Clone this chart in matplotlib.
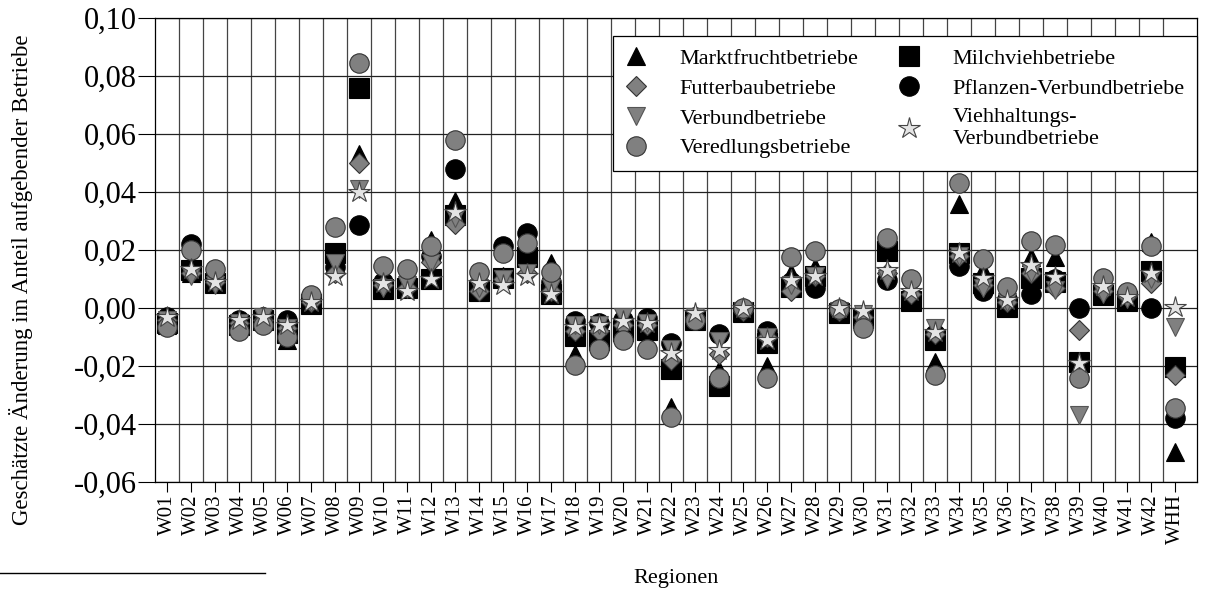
import matplotlib
matplotlib.use("Agg")
import matplotlib.pyplot as plt
from matplotlib.lines import Line2D
from matplotlib.ticker import FuncFormatter, MultipleLocator
import numpy as np

regions = ["W%02d" % i for i in range(1, 43)] + ["WHH"]

marktfrucht = [-0.006, 0.012, 0.009, -0.004, -0.004, -0.011, 0.002, 0.015, 0.053, 0.008,
               0.008, 0.0235, 0.037, 0.008, 0.011, 0.018, 0.0155, -0.016, -0.010, -0.008,
               -0.008, -0.034, -0.003, -0.0215, -0.001, -0.020, 0.012, 0.014, -0.001, -0.004,
               0.020, 0.004, -0.0185, 0.036, 0.013, 0.002, 0.0175, 0.0175, -0.019, 0.006,
               0.004, 0.0227, -0.0497]
futterbau = [-0.004, 0.012, 0.009, -0.005, -0.004, -0.007, 0.002, 0.012, 0.050, 0.008,
             0.007, 0.016, 0.029, 0.006, 0.010, 0.012, 0.006, -0.008, -0.008, -0.006,
             -0.006, -0.018, -0.003, -0.016, -0.001, -0.010, 0.006, 0.011, -0.001, -0.003,
             0.012, 0.005, -0.009, 0.018, 0.008, 0.002, 0.012, 0.007, -0.0076, 0.006,
             0.004, 0.0087, -0.023]
verbund = [-0.004, 0.011, 0.008, -0.005, -0.003, -0.007, 0.002, 0.0155, 0.041, 0.007,
           0.008, 0.0155, 0.031, 0.007, 0.010, 0.012, 0.007, -0.006, -0.006, -0.003,
           -0.005, -0.014, -0.003, -0.0115, -0.001, -0.010, 0.008, 0.011, -0.001, -0.002,
           0.010, 0.008, -0.007, 0.018, 0.007, 0.002, 0.012, 0.0062, -0.037, 0.005,
           0.003, 0.010, -0.0065]
veredlung = [-0.0065, 0.020, 0.0135, -0.008, -0.006, -0.010, 0.0045, 0.028, 0.0845, 0.0145,
             0.0135, 0.0215, 0.058, 0.0125, 0.019, 0.0225, 0.0125, -0.0195, -0.014, -0.011,
             -0.014, -0.0375, -0.004, -0.024, 0.000, -0.024, 0.0176, 0.0197, -0.0005, -0.007,
             0.024, 0.010, -0.023, 0.043, 0.0168, 0.0073, 0.023, 0.0217, -0.024, 0.0103,
             0.0056, 0.0213, -0.0345]
milchvieh = [-0.005, 0.013, 0.0087, -0.006, -0.004, -0.0085, 0.0015, 0.019, 0.076, 0.0065,
             0.007, 0.010, 0.032, 0.006, 0.0105, 0.0175, 0.005, -0.0095, -0.011, -0.008,
             -0.0075, -0.021, -0.004, -0.027, -0.0015, -0.012, 0.0074, 0.011, -0.0017, -0.0035,
             0.0195, 0.0025, -0.011, 0.019, 0.0087, 0.0005, 0.0103, 0.009, -0.0186, 0.0045,
             0.0025, 0.0128, -0.0204]
pflanzen = [-0.003, 0.022, 0.011, -0.004, -0.003, -0.004, 0.003, 0.014, 0.0285, 0.009,
            0.009, 0.018, 0.048, 0.008, 0.0215, 0.026, 0.009, -0.0045, -0.005, -0.004,
            -0.0035, -0.012, -0.003, -0.009, -0.001, -0.008, 0.009, 0.007, -0.001, -0.004,
            0.0097, 0.004, -0.009, 0.0145, 0.006, 0.003, 0.005, 0.010, 0.000, 0.007,
            0.004, 0.000, -0.038]
viehhaltung = [-0.003, 0.0135, 0.009, -0.004, -0.003, -0.006, 0.002, 0.011, 0.040, 0.0085,
               0.006, 0.010, 0.033, 0.0085, 0.008, 0.011, 0.005, -0.0065, -0.006, -0.0045,
               -0.005, -0.0155, -0.0017, -0.0145, 0.000, -0.011, 0.0097, 0.011, 0.000, -0.001,
               0.013, 0.006, -0.0083, 0.019, 0.0103, 0.0028, 0.0148, 0.0108, -0.019, 0.0076,
               0.0037, 0.012, 0.0004]

plt.rcParams['font.family'] = ['Liberation Serif', 'DejaVu Serif']

fig = plt.figure(figsize=(12.08, 5.89), dpi=100)
ax = fig.add_axes([155 / 1208, 1 - 482 / 589, (1197 - 155) / 1208, (482 - 18) / 589])

x = np.arange(len(regions))
grey = '#808080'

series = [
    # label, data, marker, face, edge, size, zorder
    ("Marktfruchtbetriebe", marktfrucht, '^', 'black', 'black', 13, 3),
    ("Futterbaubetriebe", futterbau, 'D', grey, '#333333', 10, 6),
    ("Verbundbetriebe", verbund, 'v', grey, '#555555', 13, 7),
    ("Veredlungsbetriebe", veredlung, 'o', grey, '#333333', 14, 8),
    ("Milchviehbetriebe", milchvieh, 's', 'black', 'black', 14, 4),
    ("Pflanzen-Verbundbetriebe", pflanzen, 'o', 'black', 'black', 14, 5),
    ("Viehhaltungs-\nVerbundbetriebe", viehhaltung, '*', '#e4e4e4', '#444444', 16, 9),
]

handles = []
for label, data, mk, fc, ec, ms, z in series:
    h, = ax.plot(x, data, linestyle='none', marker=mk, markersize=ms,
                 markerfacecolor=fc, markeredgecolor=ec, markeredgewidth=0.8,
                 zorder=z, label=label)
    handles.append(h)

ax.set_xlim(-0.5, len(regions) - 0.1)
ax.set_ylim(-0.06, 0.10)
ax.yaxis.set_major_locator(MultipleLocator(0.02))
ax.yaxis.set_major_formatter(FuncFormatter(lambda v, p: ("%.2f" % v).replace('.', ',').replace('-0,00', '0,00')))

ax.set_xticks(x)
ax.set_xticklabels(regions, rotation=90, fontsize=15)
ax.tick_params(axis='y', labelsize=22, length=12, width=0.8, pad=1, direction='out')
ax.tick_params(axis='x', length=7, width=0.8, pad=2, direction='out')

ax.grid(axis='y', color='#222222', linewidth=0.9, zorder=0)
for b in np.arange(0.5, len(regions) - 0.5, 1.0):
    ax.axvline(b, color='#444444', linewidth=0.9, zorder=0)
ax.set_axisbelow(True)
for s in ax.spines.values():
    s.set_linewidth(0.9)

ax.set_ylabel("Geschätzte Änderung im Anteil aufgebender Betriebe", fontsize=16.5)
ax.yaxis.set_label_coords((33 - 155) / 1042, (482 - 280) / 464)
ax.set_xlabel("Regionen", fontsize=16, labelpad=18)

leg = ax.legend(handles, [s[0] for s in series],
                ncol=2, loc='upper right', bbox_to_anchor=(1.0, (482 - 36) / 464),
                borderaxespad=0, frameon=True, fancybox=False, framealpha=1,
                edgecolor='black', fontsize=16, handlelength=1.0, handletextpad=1.45,
                columnspacing=1.8, labelspacing=0.42, borderpad=0.55)
leg.get_frame().set_linewidth(0.9)
leg.set_zorder(20)
leg.get_texts()[6].set_linespacing(1.2)

fig.add_artist(Line2D([0, 265 / 1208], [1 - 573 / 589, 1 - 573 / 589],
                      transform=fig.transFigure, color='black', linewidth=1))

fig.savefig("out.png", dpi=100)
